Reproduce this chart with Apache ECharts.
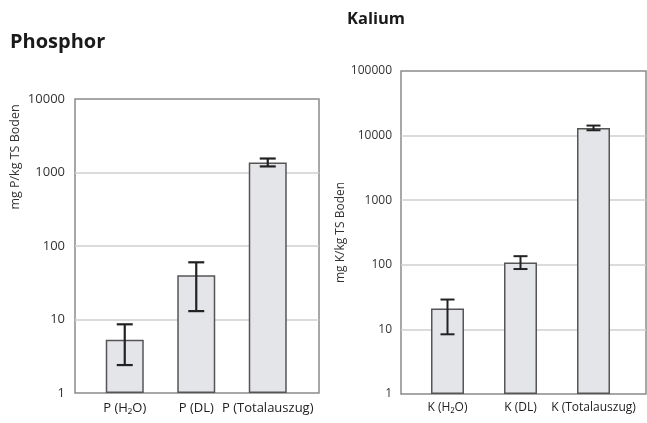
<!DOCTYPE html>
<html>
<head>
<meta charset="utf-8">
<script src="https://cdn.jsdelivr.net/npm/echarts@6/dist/echarts.min.js"></script>
<style>
  html, body { margin: 0; padding: 0; background: #fff; }
  #chart { width: 647px; height: 423px; }
</style>
</head>
<body>
<div id="chart"></div>
<script>
// Phosphor
let pCats = ["P (H₂O)", "P (DL)", "P (Totalauszug)"]
let pValues = [5.3, 40, 1370]
let pLow = [2.4, 13, 1210]
let pHigh = [8.6, 60, 1550]

// Kalium
let kCats = ["K (H₂O)", "K (DL)", "K (Totalauszug)"]
let kValues = [21, 109, 13100]
let kLow = [8.4, 86, 12100]
let kHigh = [29, 136, 14300]

let font = "Open Sans"

function errData(low, high) {
    return low.map((l, i) => [i, l, high[i]])
}

function errRender(half, lw) {
    return function (params, api) {
        let i = api.value(0)
        let top = api.coord([i, api.value(2)])
        let bot = api.coord([i, api.value(1)])
        let style = { stroke: "#222", lineWidth: lw }
        return {
            type: "group",
            children: [
                { type: "line", shape: { x1: top[0], y1: top[1], x2: bot[0], y2: bot[1] }, style: style },
                { type: "line", shape: { x1: top[0] - half, y1: top[1], x2: top[0] + half, y2: top[1] }, style: style },
                { type: "line", shape: { x1: bot[0] - half, y1: bot[1], x2: bot[0] + half, y2: bot[1] }, style: style }
            ]
        }
    }
}

function frameAxis(gridIndex, max, fontSize, margin, extra) {
    return Object.assign({
        type: "log",
        logBase: 10,
        gridIndex: gridIndex,
        min: 1,
        max: max,
        axisLine: { show: false },
        axisTick: { show: false },
        axisLabel: { color: "#333", fontFamily: font, fontSize: fontSize, margin: margin, formatter: v => String(Math.round(v)) },
        splitLine: { show: true, showMinLine: false, showMaxLine: false, lineStyle: { color: "#cfcfcf", width: 1.5 } }
    }, extra || {})
}

function hiddenLog(gridIndex, max) {
    return { type: "log", logBase: 10, gridIndex: gridIndex, min: 1, max: max, show: false }
}

let myChart = echarts.init(document.getElementById("chart"))

let options = {
    animation: false,
    title: [
        { text: "Phosphor", left: 5, top: 27, textStyle: { fontFamily: font, fontWeight: "bold", fontSize: 20, color: "#1a1a1a" } },
        { text: "Kalium", left: 342, top: 6, textStyle: { fontFamily: font, fontWeight: "bold", fontSize: 16.5, color: "#1a1a1a" } }
    ],
    grid: [
        { left: 75, top: 99, width: 244, height: 294, show: true, borderColor: "#8a8a8a", borderWidth: 1.5, backgroundColor: "transparent" },
        { left: 89, top: 99, width: 214.5, height: 294 },
        { left: 401, top: 71, width: 245, height: 323, show: true, borderColor: "#8a8a8a", borderWidth: 1.5, backgroundColor: "transparent" },
        { left: 411, top: 71, width: 219, height: 323 }
    ],
    xAxis: [
        { type: "category", gridIndex: 0, data: pCats, show: false },
        {
            type: "category", gridIndex: 1, data: pCats,
            axisLine: { show: false }, axisTick: { show: false },
            axisLabel: { color: "#222", fontFamily: font, fontSize: 13, margin: 9, interval: 0 }
        },
        { type: "category", gridIndex: 2, data: kCats, show: false },
        {
            type: "category", gridIndex: 3, data: kCats,
            axisLine: { show: false }, axisTick: { show: false },
            axisLabel: { color: "#222", fontFamily: font, fontSize: 12, margin: 8, interval: 0 }
        }
    ],
    yAxis: [
        frameAxis(0, 10000, 13, 10),
        hiddenLog(1, 10000),
        frameAxis(2, 100000, 12, 9, {
            name: "mg K/kg TS Boden",
            nameLocation: "middle",
            nameGap: 42,
            nameTextStyle: { color: "#333", fontFamily: font, fontSize: 12 }
        }),
        hiddenLog(3, 100000)
    ],
    graphic: [{
        type: "text",
        x: 15,
        y: 157,
        rotation: Math.PI / 2,
        style: { text: "mg P/kg TS Boden", fill: "#333", font: "12.5px 'Open Sans'", textAlign: "center", textVerticalAlign: "middle" }
    }],
    series: [
        {
            type: "bar", xAxisIndex: 1, yAxisIndex: 1, data: pValues, barWidth: 38,
            itemStyle: { color: "#e4e5e8", borderColor: "#555", borderWidth: 1.5 }
        },
        {
            type: "custom", xAxisIndex: 1, yAxisIndex: 1, data: errData(pLow, pHigh),
            renderItem: errRender(8, 2.2), z: 5
        },
        {
            type: "bar", xAxisIndex: 3, yAxisIndex: 3, data: kValues, barWidth: 33,
            itemStyle: { color: "#e4e5e8", borderColor: "#555", borderWidth: 1.5 }
        },
        {
            type: "custom", xAxisIndex: 3, yAxisIndex: 3, data: errData(kLow, kHigh),
            renderItem: errRender(7, 2), z: 5
        }
    ]
}
myChart.setOption(options)
</script>
</body>
</html>
